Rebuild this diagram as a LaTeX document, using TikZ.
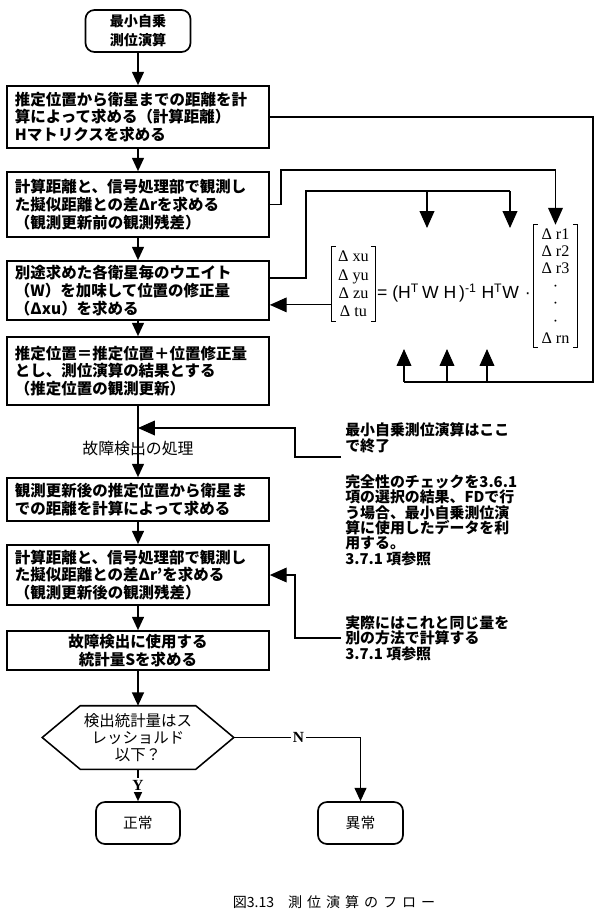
\documentclass[tikz,border=0pt]{standalone}
\usepackage{fontspec}
\setmainfont{Noto Sans CJK JP}
\newfontfamily\latinserif{Liberation Serif}
\newfontfamily\latinsans{Liberation Sans}
\usepackage{tikz}
\usetikzlibrary{arrows.meta}
\usetikzlibrary{calc}
\newlength\px
\setlength\px{0.025cm}

\begin{document}
\begin{tikzpicture}[x=0.025cm,y=-0.025cm,
  box/.style={draw,line width=1.2pt,text width=246\px,inner xsep=8\px,inner ysep=0pt,align=left,font=\bfseries\fontsize{11}{12.6}\selectfont},
  term/.style={draw,line width=1.2pt,rounded corners=9\px,align=center,inner sep=0pt},
  note/.style={align=left,inner sep=4\px,font=\bfseries\fontsize{10.6}{11}\selectfont},
  vec/.style={inner sep=0pt,align=center,font=\latinserif\fontsize{11.5}{13}\selectfont},
  lab/.style={fill=white,inner sep=1.5pt,font=\latinserif\bfseries\fontsize{11}{12}\selectfont},
  arr/.style={-{Triangle[length=12pt,width=10.5pt]},line width=0.8pt},
  bus/.style={line width=0.8pt}]
		\useasboundingbox (0,0) rectangle (600,917);

		% main flow
		\node[term,minimum width=105\px,minimum height=42\px,font=\bfseries\fontsize{10}{13.5}\selectfont] (0) at (138,31) {最小自乗\\測位演算};
		\begin{scope}[every node/.style={box}]
			\node[minimum height=62\px] (1) at (138,117) {推定位置から衛星までの距離を計\\算によって求める（計算距離）\\Hマトリクスを求める};
			\node[minimum height=65\px] (2) at (138,204.5) {計算距離と、信号処理部で観測し\\た擬似距離との差Δrを求める\\（観測更新前の観測残差）};
			\node[minimum height=59\px] (3) at (138,290.5) {別途求めた各衛星毎のウエイト\\（W）を加味して位置の修正量\\（Δxu）を求める};
			\node[minimum height=68\px] (4) at (138,371) {推定位置＝推定位置＋位置修正量\\とし、測位演算の結果とする\\（推定位置の観測更新）};
			\node[minimum height=43\px] (5) at (138,499.5) {観測更新後の推定位置から衛星ま\\での距離を計算によって求める};
			\node[minimum height=60\px] (6) at (138,575) {計算距離と、信号処理部で観測し\\た擬似距離との差Δr'を求める\\（観測更新後の観測残差）};
			\node[minimum height=39\px,align=center] (7) at (138,650.5) {故障検出に使用する\\統計量Sを求める};
		\end{scope}
		\node[font=\fontsize{11.3}{13}\selectfont,inner sep=1pt] (fl) at (138,448) {故障検出の処理};
		\coordinate (j1) at (138,428);

		% decision and ends
		\node[minimum width=191\px,minimum height=63\px,inner sep=0pt,align=center,font=\fontsize{11}{12}\selectfont] (8) at (138,737.5) {検出統計量はス\\レッショルド\\以下？};
		\draw[line width=1.1pt] (8.west) -- ($(8.north west)+(38,0)$) -- ($(8.north east)+(-38,0)$) -- (8.east)
			-- ($(8.south east)+(-38,0)$) -- ($(8.south west)+(38,0)$) -- cycle;
		\node[term,minimum width=84\px,minimum height=42\px,font=\fontsize{10.5}{12}\selectfont] (9) at (138,823) {正常};
		\node[term,minimum width=85\px,minimum height=42\px,font=\fontsize{10.5}{12}\selectfont] (10) at (360.5,823) {異常};

		\begin{scope}[>={Triangle[length=9.5pt,width=8.5pt]},
		              every edge/.style={draw=black,line width=1.1pt,->}]
			\path (0) edge (1);
			\path (1) edge (2);
			\path (2) edge (3);
			\path (3) edge (4);
			\path (4) edge (5);
			\path (5) edge (6);
			\path (6) edge (7);
			\path (7) edge (8);
			\path (8) edge node[lab]{Y} (9);
		\end{scope}
		\draw[line width=1pt,-{Triangle[length=9.5pt,width=8.5pt]}] (8.east) -| node[lab,pos=0.255]{N} (10.north);

		% notes
		\node[note,anchor=south west] (n1) at (341,457) {最小自乗測位演算はここ\\で終了};
		\node[note,anchor=north west] (n2) at (341,470) {完全性のチェックを3.6.1\\項の選択の結果、FDで行\\う場合、最小自乗測位演\\算に使用したデータを利\\用する。\\3.7.1 項参照};
		\node[note,anchor=west] (n3) at (341,638) {実際にはこれと同じ量を\\別の方法で計算する\\3.7.1 項参照};
		\draw[arr] (n1.south west) -- ++(-46,0) |- (j1);
		\draw[arr] (n3.west) -- ++(-46,0) |- (6.east);

		% least squares equation
		\node[vec,minimum width=43\px,minimum height=74\px] (dx) at (353.5,284) {Δ xu\\Δ yu\\Δ zu\\Δ tu};
		\node[inner sep=0pt,font=\latinsans\fontsize{12.5}{14}\selectfont] (eq) at (454,293) {= (H\textsuperscript{T}\,W H\,)\textsuperscript{-1} H\textsuperscript{T}W\,\,·};
		\node[vec,minimum width=43\px,minimum height=122\px,font=\latinserif\fontsize{11.5}{12.4}\selectfont] (dr) at (555.5,286) {Δ r1\\Δ r2\\Δ r3\\·\\·\\·\\Δ rn};
		\foreach \m in {dx,dr} {
			\draw[line width=0.6pt] ($(\m.north west)+(4,0)$) -- (\m.north west) -- (\m.south west) -- ++(4,0);
			\draw[line width=0.6pt] ($(\m.north east)+(-4,0)$) -- (\m.north east) -- (\m.south east) -- ++(-4,0);
		}

		\coordinate (w1) at (427,228);
		\coordinate (w2) at (510,228);
		\coordinate (h1) at (404,349);
		\coordinate (h2) at (447,349);
		\coordinate (h3) at (487,349);
		\coordinate (hbus) at (593,382);
		\coordinate (wbus) at (306,191);
		\coordinate (rbus) at (281,170);

		\draw[bus] (1.east) -| (hbus) -- (h1 |- hbus);
		\foreach \t in {h1,h2,h3}
			\draw[arr] (\t |- hbus) -- (\t);
		\draw[arr] (2.east) -| (rbus) -| (dr.north);
		\draw[bus] ($(3.east)+(0,-12.5)$) -| (wbus) -- (w2 |- wbus);
		\foreach \t in {w1,w2}
			\draw[arr] (\t |- wbus) -- (\t);
		\path ($(dx.north west)!0.78!(dx.south west)$) coordinate (dxa);
		\draw[arr] (dxa) -- (dxa -| 3.east);

		% caption
		\node[font=\fontsize{10}{12}\selectfont] (cap) at (334,902) {図3.13\hspace{1em}{\addfontfeature{LetterSpace=35}測位演算のフロー}};
\end{tikzpicture}
\end{document}
